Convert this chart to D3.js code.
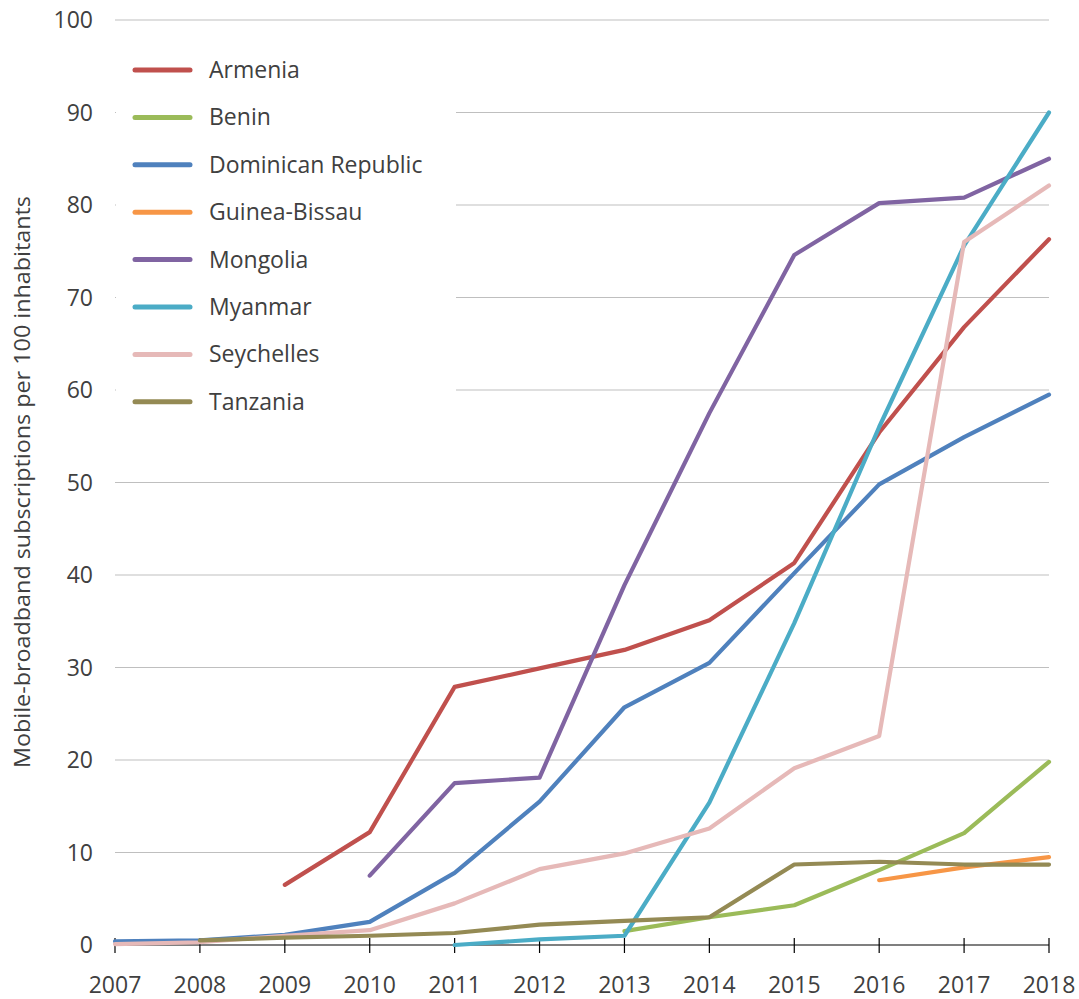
<!DOCTYPE html>
<html>
<head>
<meta charset="utf-8">
<script src="https://cdn.jsdelivr.net/npm/d3@7"></script>
<style>
  body { margin: 0; background: #fff; }
  text { font-family: "Open Sans", "Noto Sans", sans-serif; fill: #404040; }
</style>
</head>
<body>
<svg id="chart" width="1079" height="999"></svg>
<script>
// Years on the category axis
const years = [2007, 2008, 2009, 2010, 2011, 2012, 2013, 2014, 2015, 2016, 2017, 2018]
const yTicks = [0, 10, 20, 30, 40, 50, 60, 70, 80, 90, 100]

// Series values, one per year (null = no data)
const armenia = [null, null, 6.5, 12.2, 27.9, 29.9, 31.9, 35.1, 41.3, 55.4, 66.8, 76.3]
const benin = [null, null, null, null, null, null, 1.5, 3.0, 4.3, 8.1, 12.1, 19.8]
const dominicanRepublic = [0.4, 0.5, 1.1, 2.5, 7.8, 15.5, 25.7, 30.5, 40.2, 49.8, 54.9, 59.5]
const guineaBissau = [null, null, null, null, null, null, null, null, null, 7.0, 8.4, 9.5]
const mongolia = [null, null, null, 7.5, 17.5, 18.1, 38.9, 57.5, 74.6, 80.2, 80.8, 85.0]
const myanmar = [null, null, null, null, 0.0, 0.6, 1.0, 15.4, 34.8, 56.0, 75.6, 90.0]
const seychelles = [0.1, 0.3, 1.0, 1.6, 4.5, 8.2, 9.9, 12.6, 19.1, 22.6, 76.0, 82.1]
const tanzania = [null, 0.5, 0.8, 1.0, 1.3, 2.2, 2.6, 3.0, 8.7, 9.0, 8.7, 8.7]

const seriesNames = ['Armenia', 'Benin', 'Dominican Republic', 'Guinea-Bissau', 'Mongolia', 'Myanmar', 'Seychelles', 'Tanzania']
const seriesValues = [armenia, benin, dominicanRepublic, guineaBissau, mongolia, myanmar, seychelles, tanzania]
const seriesColors = ['#C0504D', '#9BBB59', '#4F81BD', '#F79646', '#8064A2', '#4BACC6', '#E6B9B8', '#948A54']

const series = seriesNames.map((name, i) => ({
  name: name,
  color: seriesColors[i],
  values: years.map((yr, j) => ({ year: yr, value: seriesValues[i][j] }))
}))

const svg = d3.select('#chart')
const plotLeft = 115
const plotRight = 1049
const plotTop = 20
const plotBottom = 945

const x = d3.scaleLinear().domain([2007, 2018]).range([plotLeft, plotRight])
const y = d3.scaleLinear().domain([0, 100]).range([plotBottom, plotTop])

// gridlines
svg.append('g')
  .selectAll('line')
  .data(yTicks.filter(d => d > 0))
  .join('line')
  .attr('x1', plotLeft).attr('x2', plotRight)
  .attr('y1', d => y(d)).attr('y2', d => y(d))
  .attr('stroke', '#bfbfbf').attr('stroke-width', 1.2)

// y tick labels
svg.append('g')
  .selectAll('text')
  .data(yTicks)
  .join('text')
  .attr('x', 93)
  .attr('y', d => y(d))
  .attr('dy', '0.35em')
  .attr('text-anchor', 'end')
  .style('font-size', '23px')
  .text(d => d)

// y axis title
svg.append('text')
  .attr('transform', 'translate(30,482) rotate(-90)')
  .attr('text-anchor', 'middle')
  .attr('textLength', 572)
  .attr('lengthAdjust', 'spacingAndGlyphs')
  .style('font-size', '22px')
  .text('Mobile-broadband subscriptions per 100 inhabitants')

// x axis
const xAxis = svg.append('g').attr('transform', 'translate(0,' + plotBottom + ')')
xAxis.append('line')
  .attr('x1', plotLeft).attr('x2', plotRight)
  .attr('stroke', '#000').attr('stroke-width', 1.2)
xAxis.selectAll('.tick')
  .data(years)
  .join('line')
  .attr('class', 'tick')
  .attr('x1', d => x(d)).attr('x2', d => x(d))
  .attr('y1', -7).attr('y2', 8)
  .attr('stroke', '#000').attr('stroke-width', 1.2)
xAxis.selectAll('text')
  .data(years)
  .join('text')
  .attr('x', d => x(d))
  .attr('y', 48)
  .attr('text-anchor', 'middle')
  .style('font-size', '23px')
  .text(d => d)

// legend box (white, hides gridlines behind it)
const legend = svg.append('g')
legend.append('rect')
  .attr('x', plotLeft + 1).attr('y', 32)
  .attr('width', 340).attr('height', 392)
  .attr('fill', '#fff')

// lines
const line = d3.line()
  .defined(d => d.value !== null)
  .x(d => x(d.year))
  .y(d => y(d.value))

svg.append('g')
  .selectAll('path')
  .data(series)
  .join('path')
  .attr('d', d => line(d.values))
  .attr('fill', 'none')
  .attr('stroke', d => d.color)
  .attr('stroke-width', 4.2)
  .attr('stroke-linecap', 'round')
  .attr('stroke-linejoin', 'round')

// legend items
const items = legend.selectAll('.item')
  .data(series)
  .join('g')
  .attr('class', 'item')
  .attr('transform', (d, i) => 'translate(0,' + (70 + i * 47.4) + ')')
items.append('line')
  .attr('x1', 135).attr('x2', 190)
  .attr('stroke', d => d.color)
  .attr('stroke-width', 5)
  .attr('stroke-linecap', 'round')
items.append('text')
  .attr('x', 209)
  .attr('dy', '0.35em')
  .style('font-size', '23px')
  .text(d => d.name)
</script>
</body>
</html>
